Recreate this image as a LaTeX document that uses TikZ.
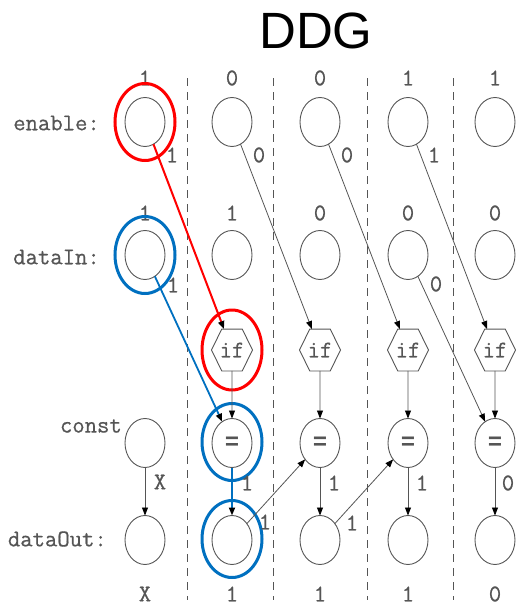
\documentclass[tikz,border=0pt]{standalone}
\usepackage{fontspec}
\usepackage{graphicx}
\newfontfamily\titlefont{Liberation Sans}
\newfontfamily\eqfont{Liberation Mono}
\newfontfamily\codefont{Latin Modern Mono}[FakeBold=0.6]
\usetikzlibrary{shapes.geometric,arrows.meta}
\definecolor{ink}{HTML}{555555}
\definecolor{hlred}{HTML}{FF0000}
\definecolor{hlblue}{HTML}{0070C0}
\begin{document}
\begin{tikzpicture}[x=1pt,y=-1pt,
  vnode/.style={ellipse, draw=ink, line width=0.9pt, minimum width=40pt,
    minimum height=49pt, inner sep=0pt, outer sep=0pt},
  eqnode/.style={vnode, font=\eqfont\bfseries\fontsize{24}{24}\selectfont, text=ink},
  hexnode/.style={regular polygon, regular polygon sides=6, draw=ink, line width=0.9pt,
    minimum size=41pt, inner sep=0pt, outer sep=0pt, yscale=1.18, transform shape,
    font=\codefont\fontsize{24}{24}\selectfont, text=ink},
  txt/.style={font=\codefont\fontsize{24}{24}\selectfont, text=ink, inner sep=0pt},
  flow/.style={draw=ink, line width=0.8pt, -{Triangle[length=8pt,width=6pt,color=black]}},
  redflow/.style={flow, draw=hlred, line width=2pt},
  blueflow/.style={flow, draw=hlblue, line width=1.8pt},
  hlring/.style={ellipse, line width=3pt, minimum width=60pt, minimum height=77pt,
    inner sep=0pt, outer sep=0pt},
  divider/.style={draw=ink, line width=0.9pt, dash pattern=on 8pt off 6pt},
]
\useasboundingbox (0,0) rectangle (516,606);

% title
\node[font=\titlefont\fontsize{51}{51}\selectfont, anchor=base, inner sep=0pt] (title) at (316,48) {DDG};

% time-step separators
\foreach \xx in {187,273,367,453}
  \draw[divider] (\xx,78) -- (\xx,600);

% row captions
\node[txt, anchor=east] (lenable) at (100,123) {enable:};
\node[txt, anchor=east] (ldatain) at (100,257) {dataIn:};
\node[txt, anchor=east] (lconst) at (122,426) {const};
\node[txt, anchor=east] (ldataout) at (107,539) {dataOut:};

% value nodes
\foreach \i/\xx in {0/145,1/232,2/320,3/408,4/495} {
  \node[vnode] (en\i) at (\xx,122) {};
  \node[vnode] (di\i) at (\xx,255) {};
  \node[vnode] (out\i) at (\xx,540) {};
}
\node[vnode] (const0) at (145,443) {};
\foreach \i/\xx in {1/232,2/320,3/408,4/495} {
  \node[hexnode] (if\i) at (\xx,350) {\scalebox{1}[0.85]{if}};
  \node[eqnode] (eq\i) at (\xx,443) {=};
}

% values per step
\foreach \v/\xx in {1/145,0/232,0/320,1/408,1/495}
  \node[txt] at (\xx,78) {\v};
\foreach \v/\xx in {1/145,1/232,0/320,0/408,0/495}
  \node[txt] at (\xx,213) {\v};
\foreach \v/\xx in {X/145,1/232,1/320,1/408,0/495}
  \node[txt] at (\xx,594) {\v};

% highlight rings
\node[hlring, draw=hlred] (ringen) at (145,122) {};
\node[hlring, draw=hlblue] (ringdi) at (145,255) {};
\node[hlring, draw=hlred, minimum height=80pt] (ringif) at (232,350) {};
\node[hlring, draw=hlblue] (ringeq) at (232,442) {};
\node[hlring, draw=hlblue] (ringout) at (232,539) {};

% dependence edges
\draw[redflow] (en0) -- (if1);
\draw[flow] (en1) -- (if2);
\draw[flow] (en2) -- (if3);
\draw[flow] (en3) -- (if4);
\draw[blueflow] (di0) -- (eq1);
\draw[flow] (di3) -- (eq4);
\foreach \i in {1,2,3,4}
  \draw[flow] (if\i) -- (eq\i);
\draw[blueflow] (eq1) -- (out1);
\draw[flow] (const0) -- (out0);
\draw[flow] (out1) -- (eq2);
\draw[flow] (eq2) -- (out2);
\draw[flow] (out2) -- (eq3);
\draw[flow] (eq3) -- (out3);
\draw[flow] (eq4) -- (out4);

% edge values
\node[txt] (e1) at (172,155) {1};
\node[txt] (e2) at (259,155) {0};
\node[txt] (e3) at (347,155) {0};
\node[txt] (e4) at (434,155) {1};
\node[txt] (e5) at (173,285) {1};
\node[txt] (e6) at (436,284) {0};
\node[txt] (e7) at (160,482) {X};
\node[txt] (e8) at (247,483) {1};
\node[txt] (e9) at (265,522) {1};
\node[txt] (e10) at (334,483) {1};
\node[txt] (e11) at (352,523) {1};
\node[txt] (e12) at (422,483) {1};
\node[txt] (e13) at (508,483) {0};
\end{tikzpicture}
\end{document}
